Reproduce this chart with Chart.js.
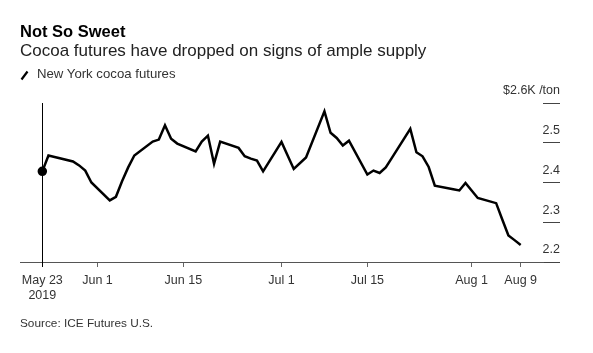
<!DOCTYPE html>
<html>
<head>
<meta charset="utf-8">
<script src="https://cdn.jsdelivr.net/npm/chart.js@4"></script>
<style>
    body { margin: 0; background: #fff; font-family: "Liberation Sans", Arial, sans-serif; }
    .wrap { position: relative; width: 593px; height: 353px; overflow: hidden; }
    canvas { position: absolute; left: 0; top: 0; }
    .txt { position: absolute; left: 20px; white-space: nowrap; line-height: 1.2; }
    .title { top: 22px; font-size: 16.5px; font-weight: bold; color: #000; }
    .subtitle { top: 41px; font-size: 17px; color: #222; }
    .legend { top: 66px; font-size: 13.2px; color: #333; left: 37px; }
    .legend-icon { position: absolute; left: 20px; top: 70px; }
    .source { top: 316px; font-size: 11.8px; color: #333; }
</style>
</head>
<body>
<div class="wrap">
    <canvas id="cocoaChart" width="593" height="353"></canvas>
    <div class="txt title">Not So Sweet</div>
    <div class="txt subtitle">Cocoa futures have dropped on signs of ample supply</div>
    <svg class="legend-icon" width="10" height="11"><line x1="1.5" y1="9.5" x2="7.5" y2="1.5" stroke="#000" stroke-width="2.2"/></svg>
    <div class="txt legend">New York cocoa futures</div>
    <div class="txt source">Source: ICE Futures U.S.</div>
</div>
<script>
// Precios de cierre (miles de USD por tonelada)
const dates = [
    '2019-05-23', '2019-05-24', '2019-05-28', '2019-05-29', '2019-05-30', '2019-05-31',
    '2019-06-03', '2019-06-04', '2019-06-05', '2019-06-06', '2019-06-07',
    '2019-06-10', '2019-06-11', '2019-06-12', '2019-06-13', '2019-06-14',
    '2019-06-17', '2019-06-18', '2019-06-19', '2019-06-20', '2019-06-21',
    '2019-06-24', '2019-06-25', '2019-06-26', '2019-06-27', '2019-06-28',
    '2019-07-01', '2019-07-02', '2019-07-03', '2019-07-05',
    '2019-07-08', '2019-07-09', '2019-07-10', '2019-07-11', '2019-07-12',
    '2019-07-15', '2019-07-16', '2019-07-17', '2019-07-18', '2019-07-19',
    '2019-07-22', '2019-07-23', '2019-07-24', '2019-07-25', '2019-07-26',
    '2019-07-29', '2019-07-30', '2019-07-31', '2019-08-01', '2019-08-02',
    '2019-08-05', '2019-08-06', '2019-08-07', '2019-08-08', '2019-08-09'
];
const prices = [
    2.428, 2.468, 2.453, 2.443, 2.430, 2.400,
    2.355, 2.364, 2.403, 2.438, 2.468,
    2.503, 2.508, 2.544, 2.510, 2.498,
    2.478, 2.503, 2.518, 2.447, 2.503,
    2.487, 2.466, 2.460, 2.455, 2.428,
    2.502, 2.468, 2.434, 2.463,
    2.579, 2.525, 2.512, 2.493, 2.505,
    2.420, 2.430, 2.424, 2.438, 2.462,
    2.535, 2.476, 2.466, 2.439, 2.392,
    2.383, 2.380, 2.399, 2.380, 2.361,
    2.348, 2.307, 2.267, 2.255, 2.243
];
const tickDates = ['2019-05-23', '2019-06-01', '2019-06-15', '2019-07-01', '2019-07-15', '2019-08-01', '2019-08-09'];
const tickLabels = [['May 23', '2019'], 'Jun 1', 'Jun 15', 'Jul 1', 'Jul 15', 'Aug 1', 'Aug 9'];
const yTicks = [2.2, 2.3, 2.4, 2.5, 2.6];
const yTickLabels = ['2.2', '2.3', '2.4', '2.5', '$2.6K /ton'];

// días desde el primer dato
const dayOf = d => (Date.parse(d) - Date.parse(dates[0])) / 86400000;

// línea vertical en la fecha inicial
const startLine = {
    id: 'startLine',
    afterDatasetsDraw(chart) {
        const { ctx, chartArea, scales } = chart;
        const x = Math.round(scales.x.getPixelForValue(0)) + 0.5;
        ctx.save();
        ctx.strokeStyle = '#000';
        ctx.lineWidth = 1;
        ctx.beginPath();
        ctx.moveTo(x, chartArea.top);
        ctx.lineTo(x, chartArea.bottom + 5);
        ctx.stroke();
        ctx.restore();
    }
};

const ctx = document.getElementById('cocoaChart').getContext('2d');
new Chart(ctx, {
    type: 'line',
    data: {
        datasets: [{
            label: 'New York cocoa futures',
            data: dates.map((d, i) => ({ x: dayOf(d), y: prices[i] })),
            borderColor: '#000',
            backgroundColor: '#000',
            borderWidth: 2.5,
            tension: 0,
            pointRadius: c => c.dataIndex === 0 ? 3.5 : 0,
            pointHoverRadius: 0,
            clip: false
        }]
    },
    options: {
        responsive: false,
        animation: false,
        devicePixelRatio: 1,
        layout: { padding: { left: 20, right: 33, top: 103, bottom: 51 } },
        plugins: { legend: { display: false }, tooltip: { enabled: false } },
        scales: {
            x: {
                type: 'linear',
                min: -3.64,
                max: 81.64,
                afterBuildTicks: s => { s.ticks = tickDates.map(d => ({ value: dayOf(d) })); },
                afterFit: s => { s.height = 40; },
                grid: { drawOnChartArea: false, drawTicks: true, tickLength: 5, color: '#666' },
                border: { display: true, color: '#555', width: 1 },
                ticks: {
                    autoSkip: false,
                    maxRotation: 0,
                    padding: 6,
                    color: '#333',
                    font: { family: 'Liberation Sans', size: 12.5 },
                    callback: (v, i) => tickLabels[i]
                }
            },
            y: {
                position: 'right',
                min: 2.2,
                max: 2.6,
                afterBuildTicks: s => { s.ticks = yTicks.map(v => ({ value: v })); },
                afterFit: s => { s.width = 17; },
                grid: { drawOnChartArea: false, drawTicks: true, tickLength: 17, color: '#444' },
                border: { display: false },
                ticks: {
                    mirror: true,
                    labelOffset: -12,
                    padding: 17,
                    color: '#333',
                    font: { family: 'Liberation Sans', size: 12.5 },
                    callback: (v, i) => yTickLabels[i]
                }
            }
        }
    },
    plugins: [startLine]
});
</script>
</body>
</html>
